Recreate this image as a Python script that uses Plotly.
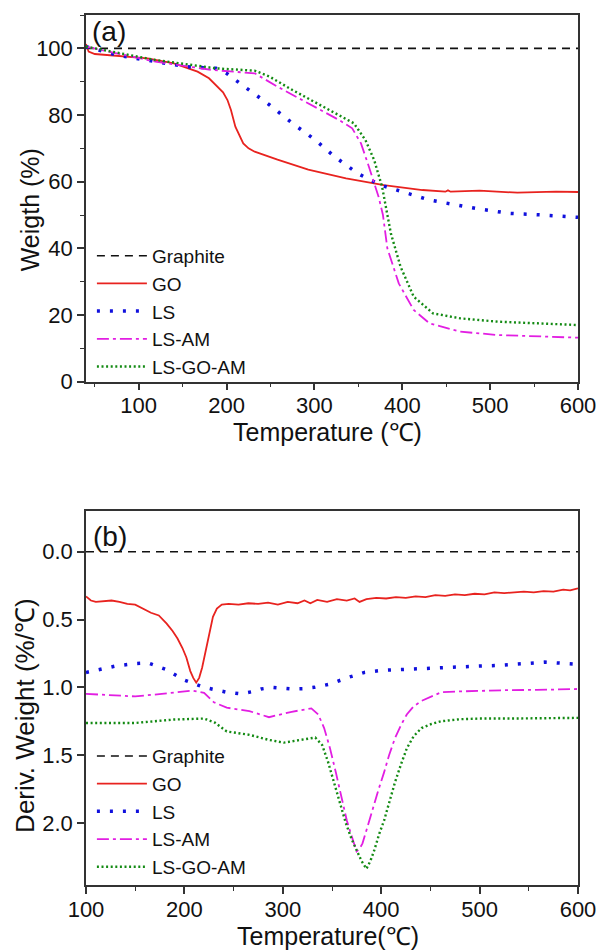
import plotly.graph_objects as go

# ---------------- Panel (a): TGA ----------------
names = ["Graphite", "GO", "LS", "LS-AM", "LS-GO-AM"]

t_graphite_a = [40, 600]
w_graphite = [100, 100]

t_go_a = [40, 43, 50, 75, 110, 140, 167, 180, 190, 196, 201, 205, 210, 215, 219, 225, 232, 258, 293, 336, 379, 423, 449, 452, 455, 488, 531, 575, 600]
w_go = [101.3, 99.0, 98.3, 97.8, 97.0, 95.5, 93.0, 91.0, 88.5, 86.8, 84.5, 81.5, 76.5, 73.5, 71.5, 70.0, 69.0, 66.6, 63.6, 61.0, 59.0, 57.5, 57.0, 57.4, 57.0, 57.3, 56.7, 57.0, 56.9]

t_ls_a = [40, 75, 119, 154, 188, 200, 210, 223, 249, 275, 301, 323, 349, 375, 400, 431, 483, 522, 560, 600]
w_ls = [100.5, 98.0, 96.0, 94.5, 94.0, 92.5, 90.5, 88.0, 83.0, 77.5, 72.5, 67.5, 62.5, 59.0, 57.0, 54.5, 52.0, 50.5, 50.0, 49.3]

t_lsam_a = [40, 119, 184, 232, 258, 293, 328, 343, 353, 362, 373, 378, 383, 396, 413, 431, 466, 509, 553, 600]
w_lsam = [100.5, 96.0, 93.5, 92.5, 88.5, 83.5, 78.5, 76.0, 71.5, 64.5, 55.5, 50.0, 40.0, 29.5, 21.5, 17.5, 15.0, 14.0, 13.7, 13.2]

t_lsgoam_a = [40, 119, 188, 232, 249, 275, 310, 345, 358, 368, 377, 387, 398, 413, 435, 466, 509, 553, 600]
w_lsgoam = [100.5, 96.5, 94.0, 93.3, 91.5, 87.5, 82.5, 77.5, 72.5, 66.5, 58.5, 44.5, 34.5, 25.5, 20.5, 19.0, 18.0, 17.5, 17.0]

# ---------------- Panel (b): DTG ----------------
t_graphite_b = [100, 600]
d_graphite = [0.0, 0.0]

t_go_b = [100, 105, 110, 118, 126, 134, 142, 150, 158, 166, 174, 182, 188, 193, 198, 202, 206, 209, 212, 215,
          218, 221, 225, 229, 233, 238, 245, 255, 265, 275, 285, 295, 305, 315, 322, 328, 335, 345, 355, 365,
          373, 378, 385, 395, 405, 415, 425, 435, 445, 455, 465, 475, 485, 495, 505, 515, 525, 535, 545, 555,
          565, 575, 585, 592, 600]
d_go = [0.33, 0.36, 0.37, 0.365, 0.36, 0.37, 0.385, 0.39, 0.42, 0.45, 0.47, 0.53, 0.585, 0.64, 0.71, 0.78, 0.88, 0.93, 0.965, 0.93,
        0.855, 0.75, 0.61, 0.48, 0.42, 0.39, 0.385, 0.39, 0.38, 0.385, 0.375, 0.39, 0.37, 0.38, 0.36, 0.38, 0.355, 0.37, 0.35, 0.36,
        0.345, 0.37, 0.35, 0.34, 0.345, 0.335, 0.34, 0.33, 0.335, 0.32, 0.325, 0.315, 0.32, 0.31, 0.315, 0.30, 0.305, 0.30, 0.295, 0.30,
        0.29, 0.295, 0.28, 0.285, 0.27]

t_ls_b = [100, 111, 130, 150, 163, 181, 200, 220, 243, 257, 270, 278, 290, 309, 320, 332, 348, 365, 383, 400, 422, 440, 461, 480, 500, 520, 539, 555, 566, 580, 593, 600]
d_ls = [0.89, 0.875, 0.843, 0.825, 0.82, 0.867, 0.947, 1.0, 1.036, 1.048, 1.03, 1.012, 1.0, 1.012, 1.01, 1.0, 0.976, 0.93, 0.89, 0.875, 0.867, 0.86, 0.855, 0.85, 0.843, 0.838, 0.831, 0.82, 0.814, 0.82, 0.826, 0.83]

t_lsam_b = [100, 150, 177, 208, 220, 230, 243, 266, 286, 309, 329, 336, 342, 348, 354, 360, 365, 369, 372, 375,
            378, 381, 386, 391, 397, 403, 408, 414, 420, 426, 433, 441, 450, 461, 480, 500, 530, 558, 600]
d_lsam = [1.048, 1.067, 1.048, 1.024, 1.04, 1.11, 1.15, 1.175, 1.22, 1.18, 1.155, 1.2, 1.3, 1.45, 1.63, 1.825, 1.98, 2.075, 2.15, 2.21,
          2.19, 2.15, 2.03, 1.9, 1.76, 1.625, 1.5, 1.375, 1.28, 1.2, 1.14, 1.1, 1.07, 1.036, 1.03, 1.024, 1.02, 1.019, 1.012]

t_lsgoam_b = [100, 150, 189, 220, 231, 243, 266, 286, 301, 317, 333, 340, 346, 352, 358, 364, 370, 375, 380, 385,
              389, 393, 398, 403, 408, 414, 420, 426, 433, 441, 451, 461, 480, 500, 530, 558, 600]
d_lsgoam = [1.2625, 1.2625, 1.2375, 1.23, 1.26, 1.325, 1.35, 1.3875, 1.4075, 1.3875, 1.37, 1.425, 1.55, 1.7, 1.85, 2.0, 2.12, 2.2, 2.28, 2.3375,
            2.28, 2.2, 2.08, 1.98, 1.85, 1.7, 1.57, 1.45, 1.36, 1.3, 1.27, 1.25, 1.235, 1.23, 1.23, 1.23, 1.225]

x_ticks_a = [100, 200, 300, 400, 500, 600]
y_ticks_a = [0, 20, 40, 60, 80, 100]
x_ticks_b = [100, 200, 300, 400, 500, 600]
y_ticks_b = [0.0, 0.5, 1.0, 1.5, 2.0]
y_ticktext_b = ["0.0", "0.5", "1.0", "1.5", "2.0"]

styles = {
    "Graphite": dict(color="#111111", width=1.6, dash="8px,6px"),
    "GO": dict(color="#e8231f", width=1.8, dash="solid"),
    "LS": dict(color="#1010dd", width=3.5, dash="3px,10px"),
    "LS-AM": dict(color="#e21ee2", width=1.8, dash="12px,4px,3px,4px"),
    "LS-GO-AM": dict(color="#138a13", width=2.4, dash="2px,2.6px"),
}

FONT = "Liberation Sans"

fig = go.Figure()
series_a = [(t_graphite_a, w_graphite), (t_go_a, w_go), (t_ls_a, w_ls), (t_lsam_a, w_lsam), (t_lsgoam_a, w_lsgoam)]
series_b = [(t_graphite_b, d_graphite), (t_go_b, d_go), (t_ls_b, d_ls), (t_lsam_b, d_lsam), (t_lsgoam_b, d_lsgoam)]

for n, (xs, ys) in zip(names, series_a):
    fig.add_trace(go.Scatter(x=xs, y=ys, mode="lines", name=n, line=styles[n],
                             xaxis="x", yaxis="y", legend="legend"))
for n, (xs, ys) in zip(names, series_b):
    fig.add_trace(go.Scatter(x=xs, y=ys, mode="lines", name=n, line=styles[n],
                             xaxis="x2", yaxis="y2", legend="legend2"))

axis_common = dict(showline=True, mirror=True, linecolor="#333333", linewidth=1.5,
                   ticks="outside", ticklen=7, tickwidth=1.5, tickcolor="#333333",
                   showgrid=False, zeroline=False,
                   tickfont=dict(family=FONT, size=22, color="#111111"))
minor_x = dict(dtick=50, tick0=0, ticklen=4, ticks="outside", tickwidth=1.2, tickcolor="#333333")

fig.update_layout(
    width=608, height=952,
    margin=dict(l=86, r=23, t=15, b=67),
    paper_bgcolor="white", plot_bgcolor="white",
    font=dict(family=FONT, color="#111111"),
    xaxis=dict(domain=[0, 1], anchor="y", range=[40, 600], tickvals=x_ticks_a,
               minor=minor_x, ticklabelstandoff=-4, **axis_common),
    yaxis=dict(domain=[0.5785, 1], anchor="x", range=[0, 110], tickvals=y_ticks_a,
               minor=dict(dtick=10, tick0=0, ticklen=4, ticks="outside", tickwidth=1.2, tickcolor="#333333"),
               **axis_common),
    xaxis2=dict(domain=[0, 1], anchor="y2", range=[100, 600], tickvals=x_ticks_b,
                minor=minor_x, ticklabelstandoff=-3, **axis_common),
    yaxis2=dict(domain=[0, 0.4302], anchor="x2", range=[2.457, -0.302], tickvals=y_ticks_b,
                ticktext=y_ticktext_b, **axis_common),
    legend=dict(x=0.012, y=0.745, xanchor="left", yanchor="top", bgcolor="rgba(0,0,0,0)",
                font=dict(family=FONT, size=19, color="#111111"), itemwidth=50, tracegroupgap=0),
    legend2=dict(x=0.012, y=0.170, xanchor="left", yanchor="top", bgcolor="rgba(0,0,0,0)",
                 font=dict(family=FONT, size=19, color="#111111"), itemwidth=50, tracegroupgap=0),
    showlegend=True,
)

ann_font = dict(family=FONT, size=25, color="#111111")
fig.add_annotation(text="Weigth (%)", x=-0.1132, y=0.7759, xref="paper", yref="paper",
                   textangle=-90, showarrow=False, xanchor="center", yanchor="middle", font=ann_font)
fig.add_annotation(text="Deriv. Weight (%/℃)", x=-0.1242, y=0.1954, xref="paper", yref="paper",
                   textangle=-90, showarrow=False, xanchor="center", yanchor="middle",
                   font=dict(family=FONT, size=26, color="#111111"))
fig.add_annotation(text="Temperature (℃)", x=0.491, y=0.5207, xref="paper", yref="paper",
                   showarrow=False, xanchor="center", yanchor="middle", font=ann_font)
fig.add_annotation(text="Temperature(℃)", x=0.491, y=-0.0585, xref="paper", yref="paper",
                   showarrow=False, xanchor="center", yanchor="middle", font=ann_font)
fig.add_annotation(text="(a)", x=0.046, y=0.9816, xref="paper", yref="paper",
                   showarrow=False, xanchor="center", yanchor="middle", font=dict(family=FONT, size=28, color="#111111"))
fig.add_annotation(text="(b)", x=0.048, y=0.4011, xref="paper", yref="paper",
                   showarrow=False, xanchor="center", yanchor="middle", font=dict(family=FONT, size=28, color="#111111"))

fig.write_html("out.html")
